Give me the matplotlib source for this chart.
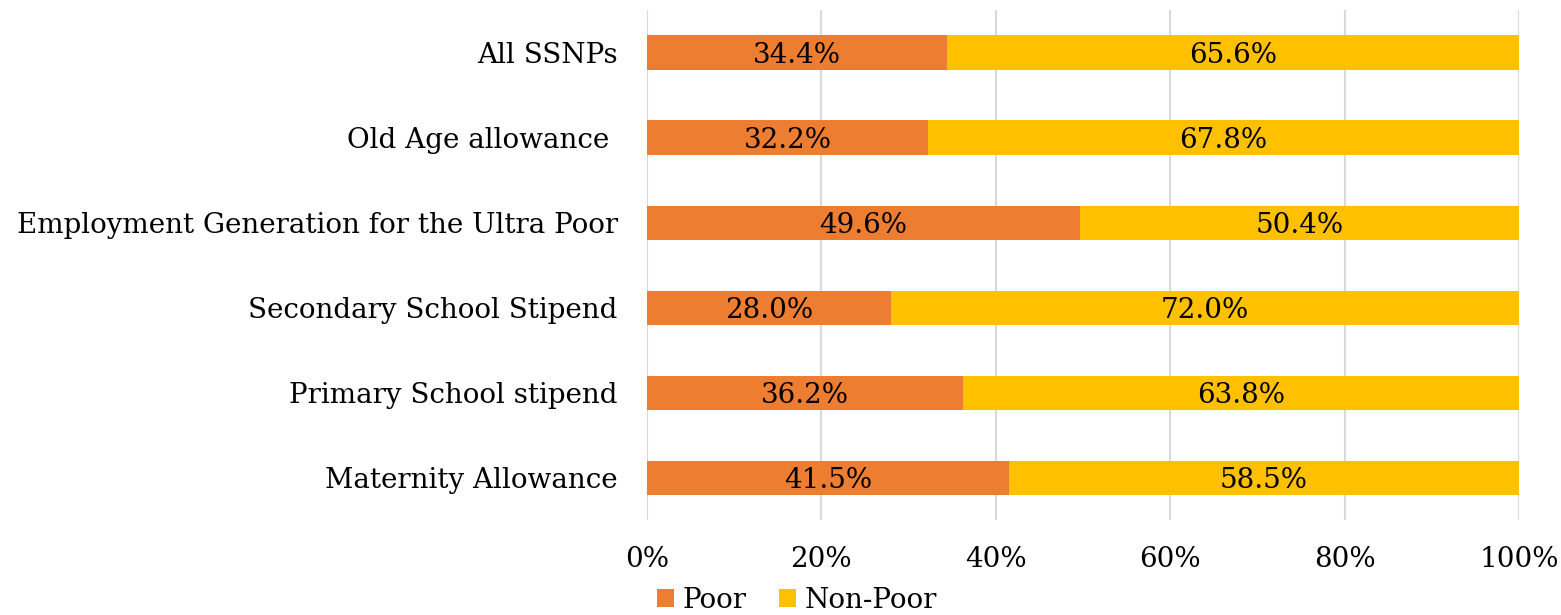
import matplotlib.pyplot as plt
import numpy as np

categories = ["All SSNPs", "Old Age allowance ", "Employment Generation for the Ultra Poor",
              "Secondary School Stipend", "Primary School stipend", "Maternity Allowance"]
poor = [34.4, 32.2, 49.6, 28.0, 36.2, 41.5]
non_poor = [65.6, 67.8, 50.4, 72.0, 63.8, 58.5]
xticks = [0, 20, 40, 60, 80, 100]

plt.rcParams['font.family'] = ['DejaVu Serif']
fs = 20

fig = plt.figure(figsize=(15.61, 6.15), dpi=100)
ax = fig.add_axes([647/1561, 1-520/615, (1519-647)/1561, 510/615])

y = np.arange(len(categories))[::-1]
h = 0.4
ax.barh(y, poor, height=h, color='#ED7D31', label='Poor', zorder=3)
ax.barh(y, non_poor, left=poor, height=h, color='#FFC000', label='Non-Poor', zorder=3)

for yi, p, n in zip(y, poor, non_poor):
    ax.text(p/2, yi - 0.03, f"{p:.1f}%", ha='center', va='center', fontsize=fs, zorder=4)
    ax.text(p + n/2, yi - 0.03, f"{n:.1f}%", ha='center', va='center', fontsize=fs, zorder=4)

ax.set_xlim(0, 100)
ax.set_ylim(-0.5, 5.5)
ax.set_xticks(xticks)
ax.set_xticklabels([f"{v}%" for v in xticks], fontsize=fs)
ax.set_yticks(y)
ax.set_yticklabels(categories, fontsize=fs)
ax.tick_params(length=0, pad=21, axis='y')
ax.tick_params(length=0, pad=19, axis='x')
ax.xaxis.grid(True, color='#D9D9D9', linewidth=1.5, zorder=0)
for s in ax.spines.values():
    s.set_visible(False)

ax.legend(loc='center', bbox_to_anchor=(0.172, -0.157), ncol=2, frameon=False,
          fontsize=fs, handlelength=0.6, handleheight=0.6, handletextpad=0.3,
          columnspacing=1.2, borderpad=0)

fig.savefig('out.png', dpi=100)
